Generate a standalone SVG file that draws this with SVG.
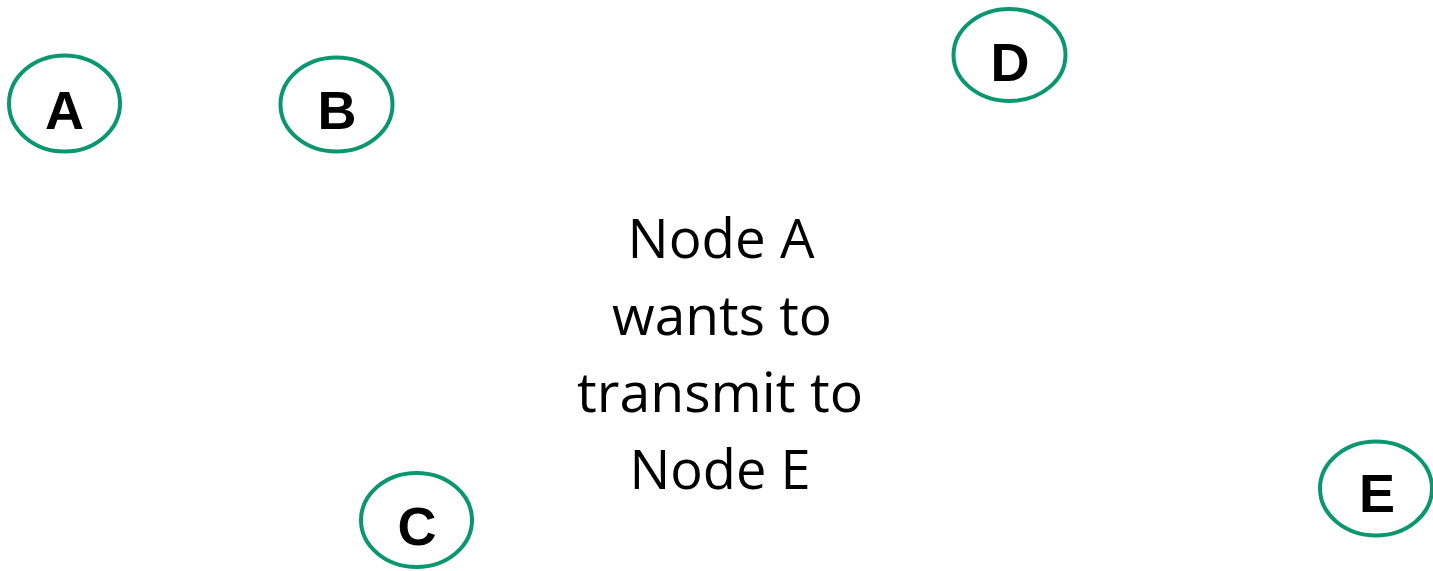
<svg xmlns="http://www.w3.org/2000/svg" width="1433" height="571" viewBox="0 0 1433 571">
  <style>
    .node ellipse { fill: #ffffff; stroke: #0A9770; stroke-width: 4; }
    .node text { font-family: "Liberation Sans", Arial, sans-serif; font-weight: bold; font-size: 54px; fill: #000000; text-anchor: middle; }
    .caption { font-family: "Open Sans", "Liberation Sans", sans-serif; font-size: 55px; fill: #000000; text-anchor: middle; }
  </style>
  <rect width="1433" height="571" fill="#ffffff"/>
  <g id="connectors"></g>
  <g id="node-A" class="node">
    <ellipse cx="64.5" cy="103.5" rx="55.5" ry="48"/>
    <text x="64.5" y="129">A</text>
  </g>
  <g id="node-B" class="node">
    <ellipse cx="336.5" cy="104.5" rx="56" ry="47"/>
    <text x="337" y="129">B</text>
  </g>
  <g id="node-C" class="node">
    <ellipse cx="416.5" cy="520" rx="55.5" ry="47"/>
    <text x="417" y="545">C</text>
  </g>
  <g id="node-D" class="node">
    <ellipse cx="1009.5" cy="55" rx="56" ry="46"/>
    <text x="1010" y="81">D</text>
  </g>
  <g id="node-E" class="node">
    <ellipse cx="1376" cy="488.5" rx="56" ry="47"/>
    <text x="1377" y="512">E</text>
  </g>
  <g id="caption">
    <text class="caption" x="721" y="258" textLength="187" lengthAdjust="spacingAndGlyphs">Node A</text>
    <text class="caption" x="722" y="335" textLength="220" lengthAdjust="spacingAndGlyphs">wants to</text>
    <text class="caption" x="720" y="412" textLength="286" lengthAdjust="spacingAndGlyphs">transmit to</text>
    <text class="caption" x="720" y="489" textLength="181" lengthAdjust="spacingAndGlyphs">Node E</text>
  </g>
</svg>
